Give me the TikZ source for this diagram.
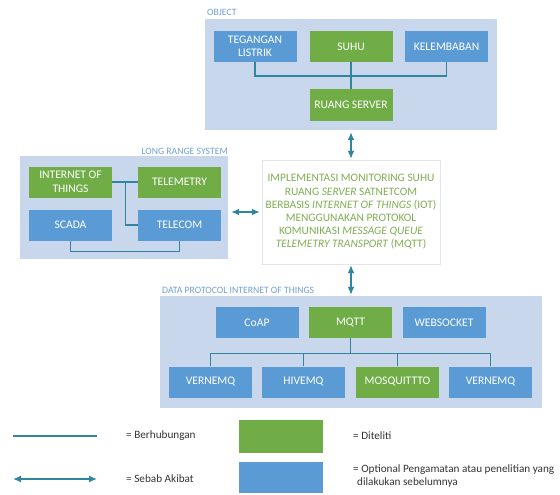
\documentclass[tikz,border=0pt]{standalone}
\usepackage{fontspec}
\setmainfont{Carlito}
\usetikzlibrary{arrows.meta}

\definecolor{grpbg}{HTML}{C8D7EB}
\definecolor{nblue}{HTML}{5B9BD5}
\definecolor{ngreen}{HTML}{70AD47}
\definecolor{teal}{HTML}{31859C}
\definecolor{lblue}{HTML}{6FA0D2}
\definecolor{tgreen}{HTML}{80AE52}

\tikzset{
  grp/.style={fill=grpbg,draw=none,inner sep=0pt},
  bx/.style={draw=none,text=white,minimum width=83pt,minimum height=31pt,
    inner sep=1pt,align=center,font=\fontsize{11.6}{13.5}\selectfont},
  blu/.style={bx,fill=nblue},
  grn/.style={bx,fill=ngreen},
  conn/.style={draw=teal,line width=1.4pt},
  grplbl/.style={text=lblue,font=\fontsize{9.7}{11}\selectfont,inner sep=0pt},
  lgd/.style={text=black!80,font=\fontsize{11.2}{12.5}\selectfont,inner sep=0pt,align=left}
}

\begin{document}
\begin{tikzpicture}[x=1pt,y=-1pt,>={Latex[length=8pt,width=7pt]}]
\useasboundingbox (0,0) rectangle (560,495);

% group boxes
\node[grp,minimum width=292pt,minimum height=111pt] (object) at (351,74.5) {};
\node[grp,minimum width=208pt,minimum height=103pt] (lrs) at (124,207) {};
\node[grp,minimum width=382pt,minimum height=112pt] (data) at (351,352) {};
\node[grplbl,anchor=west] (lobject) at (207,12) {OBJECT};
\node[grplbl,anchor=east] (llrs) at (228,151) {LONG RANGE SYSTEM};
\node[grplbl,anchor=west] (ldata) at (162,290) {DATA PROTOCOL INTERNET OF THINGS};

% object
\node[blu] (teg) at (255,46.5) {TEGANGAN\\LISTRIK};
\node[grn] (suhu) at (351,46.5) {SUHU};
\node[blu] (kel) at (446.5,46.5) {KELEMBABAN};
\node[grn] (ruang) at (351,105) {RUANG SERVER};
\draw[conn] (teg.south) -- ++(0,14) -| (kel.south);
\draw[conn] (suhu) -- (ruang);

% long range system
\node[grn] (iot) at (70.5,182) {INTERNET OF\\THINGS};
\node[grn] (telem) at (179.5,182) {TELEMETRY};
\node[blu] (scada) at (70.5,225) {SCADA};
\node[blu] (telecom) at (179.5,225) {TELECOM};
\draw[conn] (iot.east) -- (telem.west);
\draw[conn] (iot.east) -- ++(13,0) |- (telecom.west);
\draw[conn] (scada.south) -- ++(0,11) -| (telecom.south);

% judul
\node[draw=black!10,fill=white,minimum width=178pt,minimum height=104pt,
  text=tgreen,align=center,font=\fontsize{11.4}{13.2}\selectfont] (judul) at (351,212)
  {IMPLEMENTASI MONITORING SUHU\\RUANG \textit{SERVER} SATNETCOM\\
   BERBASIS \textit{INTERNET OF THINGS} (IOT)\\MENGGUNAKAN PROTOKOL\\
   KOMUNIKASI \textit{MESSAGE QUEUE}\\\textit{TELEMETRY TRANSPORT} (MQTT)};

% data protocol
\node[blu] (coap) at (257,322.5) {CoAP};
\node[grn] (mqtt) at (350.5,322.5) {MQTT};
\node[blu] (websocket) at (444,322.5) {WEBSOCKET};
\node[blu] (vernemq) at (210.5,382) {VERNEMQ};
\node[blu] (hivemq) at (303.5,382) {HIVEMQ};
\node[grn] (mosq) at (397.5,382) {MOSQUITTTO};
\node[blu] (vernemqb) at (490.5,382) {VERNEMQ};
\draw[conn] (mqtt.south) -- ++(0,15) coordinate (hub);
\foreach \n in {vernemq,hivemq,mosq,vernemqb}
  \draw[conn] (hub) -| (\n.north);

% sebab akibat
\draw[conn,<->,shorten <=2pt,shorten >=1pt] (object.south) -- (judul.north);
\draw[conn,<->,shorten <=3pt,shorten >=2pt] (lrs.east |- judul.west) -- (judul.west);
\draw[conn,<->,shorten <=1pt,shorten >=1pt] (judul.south) -- (data.north);

% legend
\coordinate (la) at (13,436);
\coordinate (lb) at (97,436);
\coordinate (lc) at (13,479);
\coordinate (ld) at (97,479);
\draw[conn] (la) -- (lb);
\draw[conn,<->] (lc) -- (ld);
\node[lgd,anchor=west] (tberh) at (126,436) {= Berhubungan};
\node[lgd,anchor=west] (tsebab) at (126,479) {= Sebab Akibat};
\node[fill=ngreen,minimum width=84pt,minimum height=33pt,inner sep=0pt] (kgreen) at (281,436.5) {};
\node[fill=nblue,minimum width=84pt,minimum height=31pt,inner sep=0pt] (kblue) at (281,477.5) {};
\node[lgd,anchor=west] (tdit) at (353,436) {= Diteliti};
\node[lgd,anchor=north west] (topt) at (353,465)
  {= Optional Pengamatan atau penelitian yang\\\hspace*{4pt}dilakukan sebelumnya};
\end{tikzpicture}
\end{document}
